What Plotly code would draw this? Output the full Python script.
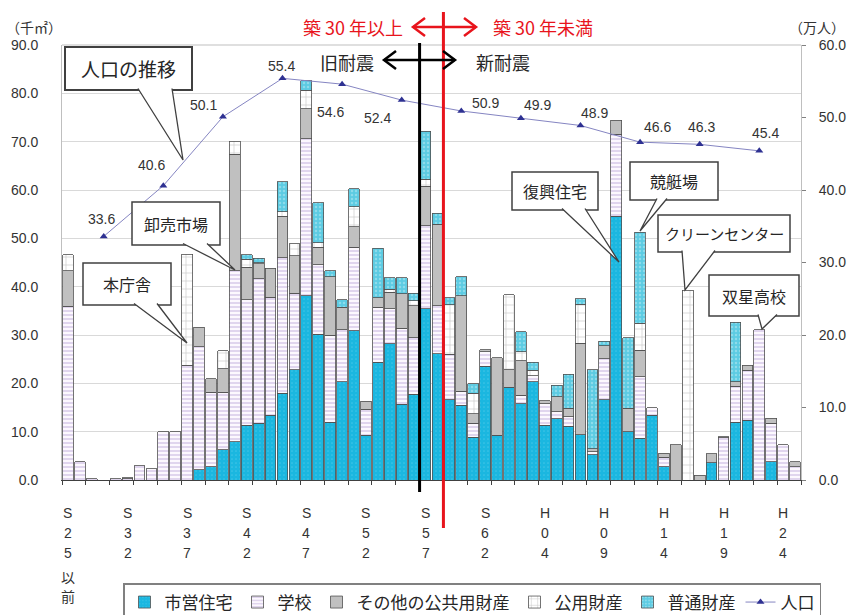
import plotly.graph_objects as go

# ---------------- data ----------------
categories = ["S25以前"] + [f"S{y}" for y in range(28, 64)] + [f"H{y:02d}" for y in range(1, 26)]

shiei_jutaku = [0, 0, 0, 0, 0, 0, 0, 0, 0, 0,
                0, 2.1, 2.7, 6.3, 7.9, 11.3, 11.7, 13.4, 17.9, 22.8,
                38.1, 30.2, 12.0, 20.3, 30.9, 9.3, 24.4, 28.2, 15.7, 17.7,
                35.4, 26.1, 16.6, 15.5, 8.8, 23.5, 9.3, 19.2, 15.8, 20.3,
                11.3, 12.7, 11.1, 9.4, 5.2, 16.6, 54.6, 10.0, 8.6, 13.4,
                2.7, 0, 0, 0, 3.6, 0, 12.0, 12.4, 0, 3.8,
                0, 0]
gakko = [35.9, 3.8, 0.3, 0, 0.3, 0.3, 3.0, 2.3, 10.0, 10.0,
         23.7, 25.5, 15.5, 11.9, 35.4, 26.0, 29.9, 24.4, 28.1, 15.8,
         32.5, 14.3, 17.9, 10.8, 17.3, 5.3, 11.3, 7.2, 15.7, 11.7,
         17.2, 10.0, 9.4, 2.9, 2.9, 3.0, 0, 0, 1.7, 1.3,
         4.5, 1.4, 2.0, 0, 0.6, 8.5, 16.9, 0, 12.8, 1.6,
         2.0, 0, 0, 0, 0, 8.7, 7.4, 10.3, 31.1, 7.9,
         7.3, 2.7]
sonota_kokyo = [7.4, 0, 0, 0, 0, 0.2, 0, 0, 0, 0,
                0, 4.0, 2.8, 4.8, 24.1, 6.7, 3.1, 6.0, 8.6, 7.8,
                6.2, 3.7, 12.2, 4.6, 4.2, 1.7, 2.0, 3.4, 7.1, 6.7,
                8.2, 16.8, 0, 19.7, 2.0, 0.5, 16.0, 3.6, 7.2, 0,
                0.6, 3.1, 1.7, 18.9, 0.7, 2.7, 2.9, 4.8, 5.4, 0,
                0.8, 7.3, 0, 1.0, 1.8, 0.2, 0.9, 1.0, 0, 1.1,
                0, 1.1]
koyo_zaisan = [3.3, 0, 0, 0, 0, 0, 0, 0, 0, 0,
               23.0, 0, 0, 3.7, 2.7, 1.7, 0.3, 0, 0.9, 2.5,
               3.8, 0.9, 0, 0, 4.1, 0, 0, 0.7, 0, 1.0,
               1.4, 0, 10.3, 0, 4.2, 0, 0, 15.5, 1.8, 1.1,
               0, 0, 0, 8.1, 0, 0, 0, 0, 5.6, 0,
               0, 0, 39.3, 0, 0, 0, 0, 0, 0, 0,
               0, 0]
futsu_zaisan = [0, 0, 0, 0, 0, 0, 0, 0, 0, 0,
                0, 0, 0, 0, 0, 0.9, 0.9, 0, 6.2, 0,
                2.0, 8.3, 1.2, 1.6, 3.8, 0, 10.3, 2.3, 3.3, 1.5,
                10.0, 2.3, 1.4, 4.0, 2.0, 0, 0, 0, 4.2, 1.7,
                0, 2.4, 7.1, 1.1, 16.3, 0.9, 0, 14.6, 18.9, 0,
                0, 0, 0, 0, 0, 0, 12.3, 0, 0, 0,
                0, 0]

pop_categories = ["S30", "S35", "S40", "S45", "S50", "S55", "S60", "H02", "H07", "H12", "H17", "H22"]
pop_values = [33.6, 40.6, 50.1, 55.4, 54.6, 52.4, 50.9, 49.9, 48.9, 46.6, 46.3, 45.4]
pop_label_offsets = [(-2, 17), (-12, 21), (-19, 12), (-1, 12), (-12, -28), (-24, -18),
                     (24, 8), (17, 13), (14, 12), (17, 15), (2, 17), (6, 18)]

tick_categories = ["S25以前", "S32", "S37", "S42", "S47", "S52", "S57", "S62", "H04", "H09", "H14", "H19", "H24"]
tick_labels = ["S25以前", "S32", "S37", "S42", "S47", "S52", "S57", "S62", "H04", "H09", "H14", "H19", "H24"]

# ---------------- layout helpers ----------------
L, T, W, H = 62, 45, 739, 435
FIG_W, FIG_H = 847, 615
FONT = "Liberation Sans, Arial, Noto Sans CJK JP, sans-serif"
JFONT = "Noto Sans CJK JP, Liberation Sans, sans-serif"


def fx(px):
    return (px - L) / W


def fy(py):
    return (T + H - py) / H


def nz(vals):
    return [v if v else None for v in vals]


fig = go.Figure()
outline = dict(color="#505050", width=0.8)

series = [
    ("市営住宅", shiei_jutaku, dict(color="#1BB7E0", line=outline,
                                 pattern=dict(shape=".", fgcolor="#63D0EC", bgcolor="#1BB7E0", size=4, solidity=0.15))),
    ("学校", gakko, dict(color="#FBF6FD", line=outline,
                        pattern=dict(shape="-", fgcolor="#B7A0D8", bgcolor="#FCF8FE", size=4, solidity=0.4))),
    ("その他の公共用財産", sonota_kokyo, dict(color="#C0C0C0", line=outline)),
    ("公用財産", koyo_zaisan, dict(color="#FFFFFF", line=outline,
                                 pattern=dict(shape="+", fgcolor="#8C8C8C", bgcolor="#FFFFFF", size=8, solidity=0.15))),
    ("普通財産", futsu_zaisan, dict(color="#5CCBE2", line=outline,
                                 pattern=dict(shape=".", fgcolor="#BDEAF3", bgcolor="#5CCBE2", size=4, solidity=0.3))),
]
for name, vals, marker in series:
    fig.add_trace(go.Bar(x=categories, y=nz(vals), name=name, marker=marker))

fig.add_trace(go.Scatter(x=pop_categories, y=pop_values, yaxis="y2", name="人口",
                         mode="lines+markers",
                         line=dict(color="#8585C2", width=1),
                         marker=dict(symbol="triangle-up", size=7, color="#2E3192")))

annotations = []
# population value labels
for c, v, (dx, dy) in zip(pop_categories, pop_values, pop_label_offsets):
    annotations.append(dict(x=c, y=v, xref="x", yref="y2", text=f"{v:.1f}", showarrow=False,
                            xanchor="center", yanchor="middle",
                            xshift=dx, yshift=dy, font=dict(family=FONT, size=14, color="#333333")))

# vertical x tick labels
row_shift = [-33, -53, -73, -97, -116]
for c, lab in zip(tick_categories, tick_labels):
    for k, ch in enumerate(lab):
        annotations.append(dict(x=c, y=0, xref="x", yref="paper", text=ch, showarrow=False,
                                xanchor="center", yanchor="middle", yshift=row_shift[k],
                                font=dict(family=FONT if ch.isascii() else JFONT, size=14, color="#333333")))

shapes = []
# top border
shapes.append(dict(type="line", xref="paper", yref="paper", x0=0, x1=1, y0=1, y1=1,
                   line=dict(color="#BFBFBF", width=1)))

# callouts: (text, box(x0,y0,x1,y1), tail base xs, target, font size, border width)
callouts = [
    ("人口の推移", (65, 47, 192, 90), (138, 172), (183, 160), 19, 2),
    ("本庁舎", (83, 263, 171, 305), (134, 157), (187, 343), 16, 1.5),
    ("卸売市場", (132, 202, 220, 245), (183, 207), (235, 270), 16, 1.5),
    ("復興住宅", (512, 172, 598, 210), (562, 585), (619, 262), 16, 1.5),
    ("競艇場", (630, 162, 718, 200), (657, 667), (640, 231), 16, 1.5),
    ("クリーンセンター", (658, 215, 790, 252), (682, 715), (685, 290), 15, 1.5),
    ("双星高校", (709, 275, 799, 316), (758, 777), (762, 329), 16, 1.5),
]
for text, (bx0, by0, bx1, by1), (tb0, tb1), (tx, ty), fs, bw in callouts:
    shapes.append(dict(type="rect", xref="paper", yref="paper", layer="above",
                       x0=fx(bx0), x1=fx(bx1), y0=fy(by1), y1=fy(by0),
                       fillcolor="white", line=dict(color="#404040", width=bw)))
    shapes.append(dict(type="path", xref="paper", yref="paper", layer="above",
                       path=f"M {fx(tb0)} {fy(by1 - 1.5)} L {fx(tx)} {fy(ty)} L {fx(tb1)} {fy(by1 - 1.5)}",
                       fillcolor="white", line=dict(color="#404040", width=1.3)))
    annotations.append(dict(x=fx((bx0 + bx1) / 2), y=fy((by0 + by1) / 2), xref="paper", yref="paper",
                            xanchor="center", yanchor="middle",
                            text=text, showarrow=False, font=dict(family=JFONT, size=fs, color="#262626")))

# boundary lines (old/new seismic code, 30 years)
shapes.append(dict(type="line", xref="x", yref="paper", x0=29.5, x1=29.5, y0=fy(43), y1=fy(492),
                   layer="above", line=dict(color="#000000", width=3)))
shapes.append(dict(type="line", xref="x", yref="paper", x0=31.5, x1=31.5, y0=fy(12), y1=fy(528),
                   layer="above", line=dict(color="#E8141C", width=3)))


def arrow(xl, xr, y, color):
    s = []
    s.append(dict(type="line", xref="paper", yref="paper", x0=fx(xl), x1=fx(xr), y0=fy(y), y1=fy(y),
                  line=dict(color=color, width=2.5)))
    s.append(dict(type="path", xref="paper", yref="paper",
                  path=f"M {fx(xl + 12)} {fy(y - 9)} L {fx(xl)} {fy(y)} L {fx(xl + 12)} {fy(y + 9)}",
                  line=dict(color=color, width=2.5)))
    s.append(dict(type="path", xref="paper", yref="paper",
                  path=f"M {fx(xr - 12)} {fy(y - 9)} L {fx(xr)} {fy(y)} L {fx(xr - 12)} {fy(y + 9)}",
                  line=dict(color=color, width=2.5)))
    return s


shapes += arrow(413, 476, 27, "#E8141C")
shapes += arrow(384, 455, 60, "#000000")

top_texts = [
    ("築 30 年以上", 353, 27, "#E8141C", 18),
    ("築 30 年未満", 543, 27, "#E8141C", 18),
    ("旧耐震", 347, 62, "#262626", 18),
    ("新耐震", 503, 62, "#262626", 18),
    ("（千㎡）", 34, 27, "#333333", 14),
    ("（万人）", 817, 27, "#333333", 14),
]
for text, px, py, col, fs in top_texts:
    annotations.append(dict(x=fx(px), y=fy(py), xref="paper", yref="paper", text=text, showarrow=False,
                            xanchor="center", yanchor="middle",
                            font=dict(family=JFONT, size=fs, color=col)))

fig.update_layout(
    width=FIG_W, height=FIG_H,
    margin=dict(l=L, r=FIG_W - L - W, t=T, b=FIG_H - T - H, pad=0, autoexpand=False),
    paper_bgcolor="white", plot_bgcolor="white",
    barmode="stack", bargap=0.1,
    font=dict(family=FONT, size=14, color="#333333"),
    xaxis=dict(type="category", categoryorder="array", categoryarray=categories,
               range=[-0.5, len(categories) - 0.5], showticklabels=False,
               ticks="outside", ticklen=4, tickson="boundaries", tickcolor="#404040",
               showline=True, linecolor="#404040", linewidth=1, showgrid=False, fixedrange=True),
    yaxis=dict(range=[0, 90], dtick=10, tickformat=".1f", showgrid=True, gridcolor="#D9D9D9",
               showline=True, linecolor="#BFBFBF", ticks="", ticklabelstandoff=20,
               tickfont=dict(family=FONT, size=14, color="#333333"), zeroline=False),
    yaxis2=dict(range=[0, 60], dtick=10, tickformat=".1f", overlaying="y", side="right",
                showgrid=False, showline=True, linecolor="#BFBFBF", ticks="outside", ticklen=4,
                tickcolor="#808080", ticklabelstandoff=10, zeroline=False,
                tickfont=dict(family=FONT, size=14, color="#333333")),
    legend=dict(orientation="h", x=fx(123), y=fy(583), xanchor="left", yanchor="top",
                traceorder="normal", bordercolor="#808080", borderwidth=1.5,
                font=dict(family=JFONT, size=17, color="#262626"), itemwidth=30,
                bgcolor="white"),
    shapes=shapes,
    annotations=annotations,
    showlegend=True,
)

fig.write_html("out.html")
